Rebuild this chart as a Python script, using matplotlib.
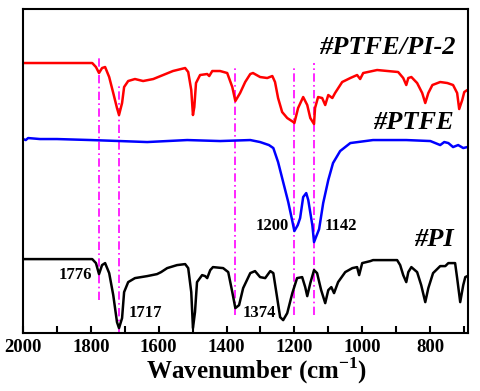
import matplotlib.pyplot as plt
from matplotlib.ticker import MultipleLocator

plt.rcParams['font.family'] = ['Liberation Serif', 'DejaVu Serif']
plt.rcParams['mathtext.fontset'] = 'custom'
plt.rcParams['mathtext.rm'] = 'Liberation Serif'
plt.rcParams['mathtext.bf'] = 'Liberation Serif:bold'

# spectra (wavenumber, transmittance a.u. with offsets)
wn_mix = [2000, 1900, 1796, 1785, 1776, 1767, 1758, 1746, 1734, 1723, 1717, 1708, 1702, 1690,
          1670, 1646, 1616, 1587, 1558, 1522, 1513, 1504, 1499, 1495, 1490, 1478, 1457, 1451,
          1442, 1419, 1398, 1383, 1374, 1360, 1345, 1330, 1322, 1301, 1280, 1265, 1257, 1248,
          1236, 1221, 1203, 1200, 1189, 1174, 1162, 1153, 1142, 1139, 1130, 1118, 1109, 1100,
          1088, 1080, 1059, 1035, 1015, 1006, 997, 956, 894, 879, 870, 864, 855, 838, 823,
          814, 805, 793, 770, 749, 732, 720, 714, 705, 699, 690]
t_mix = [328, 328, 328, 324, 318, 323, 324, 314, 298, 283, 276, 288, 304, 310,
         312, 310, 312, 316, 320, 323, 319, 301, 276, 284, 308, 316, 317, 315,
         320, 320, 318, 304, 290, 298, 309, 317, 318, 314, 313, 315, 309, 293,
         279, 273, 269, 268, 283, 294, 286, 273, 267, 283, 294, 293, 286, 296,
         293, 298, 309, 313, 316, 312, 318, 321, 319, 313, 306, 313, 314, 308, 298,
         288, 298, 306, 309, 308, 306, 298, 282, 291, 299, 301]

wn_ptfe = [2000, 1992, 1985, 1950, 1900, 1800, 1714, 1634, 1516, 1419, 1330, 1301, 1275,
           1262, 1248, 1233, 1218, 1206, 1200, 1190, 1183, 1174, 1165, 1159, 1147, 1142,
           1127, 1115, 1100, 1086, 1065, 1035, 968, 870, 799, 770, 758, 746, 732, 717, 702, 690]
t_ptfe = [252, 251, 253, 252, 252, 251, 250, 249, 251, 250, 251, 249, 246,
          243, 229, 209, 189, 170, 160, 166, 173, 194, 198, 191, 166, 149,
          162, 188, 211, 228, 240, 248, 251, 251, 250, 246, 249, 248, 244, 246, 243, 244]

wn_pi = [2000, 1900, 1796, 1785, 1776, 1767, 1758, 1746, 1734, 1723, 1717, 1708, 1702, 1690,
         1670, 1634, 1605, 1593, 1575, 1546, 1522, 1513, 1504, 1499, 1493, 1487, 1472, 1463,
         1457, 1448, 1440, 1410, 1395, 1383, 1374, 1363, 1351, 1330, 1316, 1301, 1286, 1271,
         1262, 1251, 1242, 1233, 1221, 1206, 1192, 1177, 1168, 1162, 1153, 1142, 1133, 1121,
         1109, 1100, 1091, 1083, 1071, 1050, 1029, 1015, 1009, 1000, 976, 968, 897, 888, 879,
         870, 864, 855, 838, 826, 814, 805, 791, 770, 755, 746, 735, 726, 720, 711, 702, 696, 690]
t_pi = [132, 132, 132, 128, 117, 126, 128, 118, 96, 69, 63, 73, 99, 109,
        113, 115, 117, 119, 123, 126, 127, 123, 99, 63, 79, 109, 116, 115,
        113, 121, 124, 123, 119, 99, 83, 86, 103, 118, 120, 114, 113, 120,
        118, 94, 74, 71, 78, 98, 113, 114, 104, 95, 108, 121, 118, 101,
        88, 101, 104, 98, 109, 119, 123, 124, 116, 128, 130, 131, 131, 126, 116,
        109, 119, 124, 119, 106, 89, 103, 118, 125, 125, 128, 128, 128, 113, 89, 106, 114, 115]

peak_pos = [1776, 1717, 1374, 1200, 1142]
peak_top = [334, 308, 326, 326, 328]
peak_bottom = [91, 58, 76, 76, 76]

fig = plt.figure(figsize=(4.8, 3.91), dpi=100)
ax = fig.add_axes([0.048, 0.148, 0.927, 0.829])

for x, y0, y1 in zip(peak_pos, peak_bottom, peak_top):
    ax.plot([x, x], [y0, y1], color='#ff00ff', lw=1.2, ls='-.', dashes=(5, 2, 1, 2), zorder=1)

lkw = dict(lw=1.8, zorder=2, solid_joinstyle='round', solid_capstyle='round')
ax.plot(wn_mix, t_mix, color='#ff0000', **lkw)
ax.plot(wn_ptfe, t_ptfe, color='#0000ff', **lkw)
ax.plot(wn_pi, t_pi, color='black', **lkw)

ax.set_xlim(2000, 688)
ax.set_ylim(58, 382)
ax.xaxis.set_major_locator(MultipleLocator(200))
ax.xaxis.set_minor_locator(MultipleLocator(100))
ax.tick_params(axis='x', which='both', direction='in', length=5, width=1.5,
               top=False, labelsize=13.5, pad=4)
ax.set_yticks([])
for lab in ax.get_xticklabels():
    lab.set_fontweight('bold')
for s in ax.spines.values():
    s.set_linewidth(1.5)

ax.set_xlabel(r'Wavenumber (cm$^{\mathbf{-1}}$)', fontsize=18, fontweight='bold')
ax.xaxis.set_label_coords(0.525, -0.07)

tkw = dict(fontsize=19, fontweight='bold', fontstyle='italic', ha='right', va='center')
ax.text(0.972, 0.88, '#PTFE/PI-2', transform=ax.transAxes, **tkw)
ax.text(0.968, 0.65, '#PTFE', transform=ax.transAxes, **tkw)
ax.text(0.968, 0.29, '#PI', transform=ax.transAxes, **tkw)

nkw = dict(fontsize=12, fontweight='bold', va='center')
ax.text(1796, 116, '1776', ha='right', **nkw)
ax.text(1690, 78, '1717', ha='left', **nkw)
ax.text(1354, 78, '1374', ha='left', **nkw)
ax.text(1217, 165, '1200', ha='right', **nkw)
ax.text(1110, 165, '1142', ha='left', **nkw)

fig.savefig('out.png', dpi=100)
